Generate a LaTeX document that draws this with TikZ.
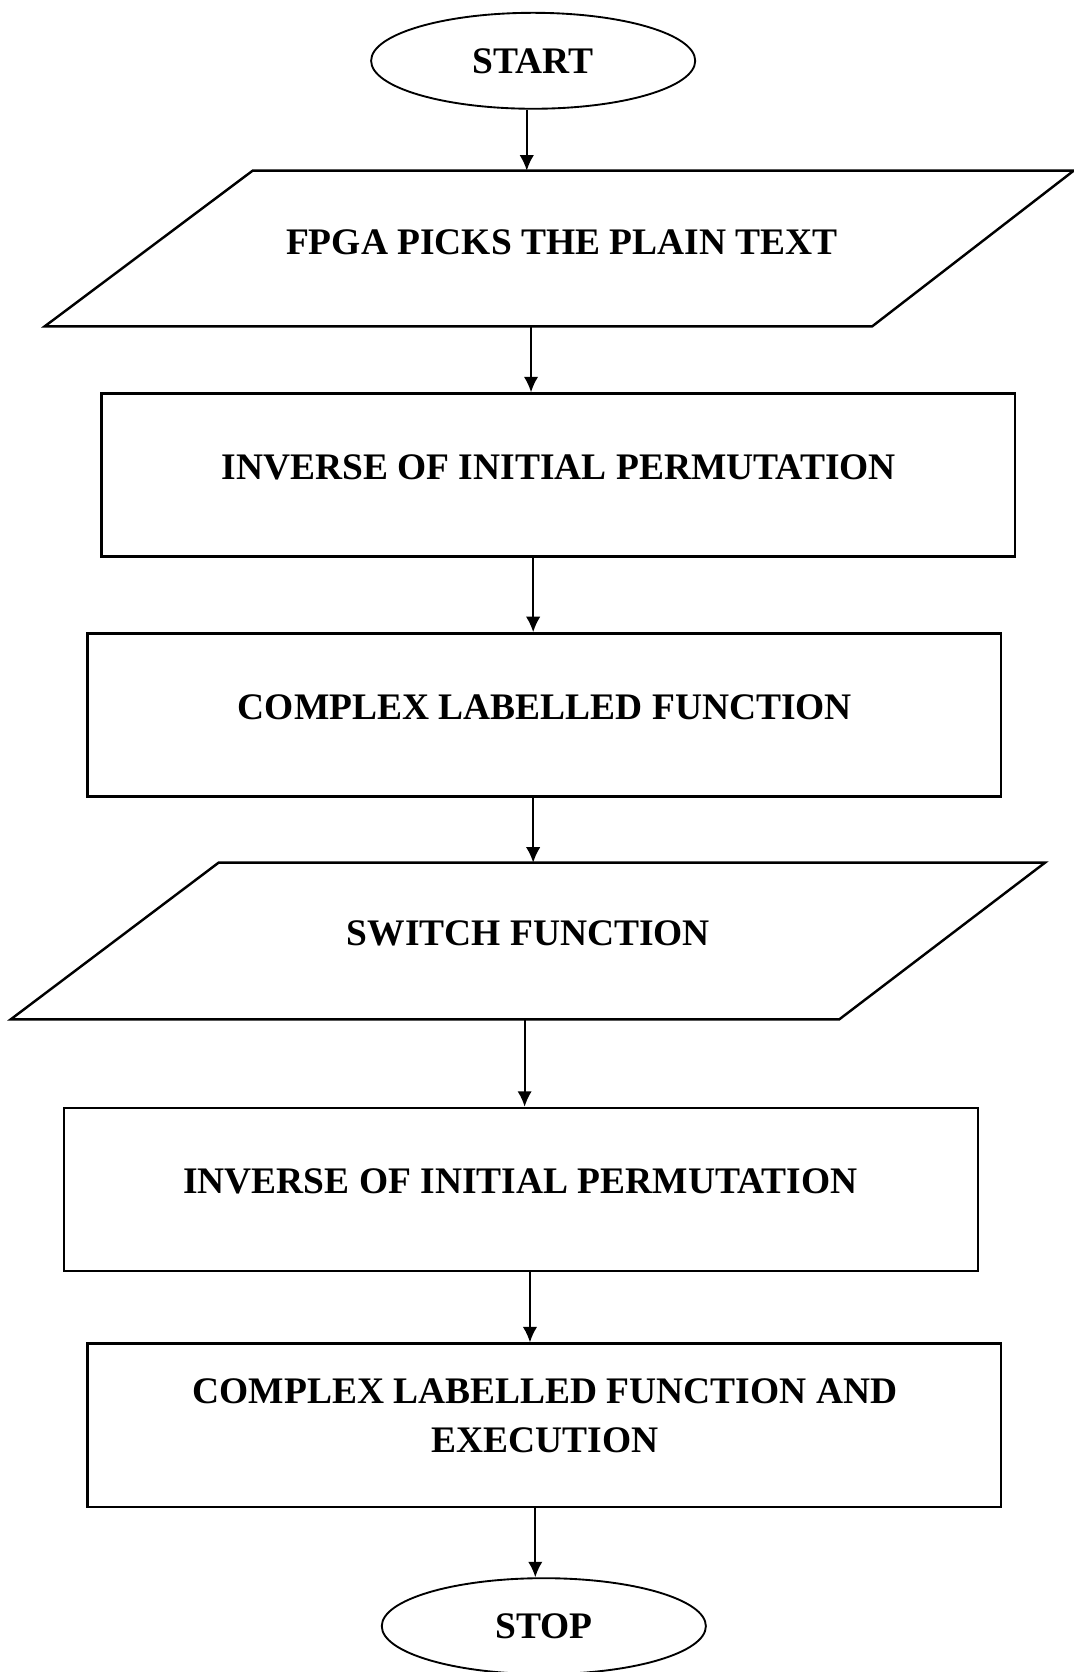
\documentclass[tikz,border=0pt]{standalone}
\usepackage{fontspec}
\setmainfont{Liberation Serif}
\usetikzlibrary{shapes.geometric}
\usetikzlibrary{arrows.meta}

\tikzset{
  terminal/.style={draw, ellipse, line width=1pt,
    minimum width=6.08cm, minimum height=1.8cm, inner sep=0cm},
  procbox/.style={draw, rectangle, line width=1.3pt,
    minimum width=17.14cm, minimum height=3.06cm, inner sep=0cm},
  ioshape/.style={draw, line width=1.3pt, line join=miter},
  lbl/.style={font=\bfseries\fontsize{20}{26}\selectfont, inner sep=0cm, align=center},
  flow/.style={line width=1pt, -{Latex[length=2.9mm,width=2.7mm]}}
}

\begin{document}
\begin{tikzpicture}[x=0.02cm, y=-0.02cm]
\useasboundingbox (0,0) rectangle (1007,1568);

\draw (500,57) node[terminal] (start) {};
\draw (500,57) node[lbl] (tstart) {START};

\draw[ioshape] (237,160) -- (1007,160) -- (818,306) -- (42,306) -- cycle;
\coordinate (in1n) at (494,160);
\coordinate (in1s) at (498,306);
\draw (527,227) node[lbl] (tin1) {FPGA PICKS THE PLAIN TEXT};

\draw (523.5,445.5) node[procbox] (box1) {};
\draw (524,438) node[lbl] (tbox1) {INVERSE OF INITIAL PERMUTATION};

\draw (510.5,670.5) node[procbox] (box2) {};
\draw (511,663) node[lbl] (tbox2) {COMPLEX LABELLED FUNCTION};

\draw[ioshape] (205,809) -- (980,809) -- (787,956) -- (10,956) -- cycle;
\coordinate (in2n) at (500,809);
\coordinate (in2s) at (492,956);
\draw (495.5,875) node[lbl] (tin2) {SWITCH FUNCTION};

\draw (488.5,1115.5) node[procbox] (box3) {};
\draw (488,1108) node[lbl] (tbox3) {INVERSE OF INITIAL PERMUTATION};

\draw (510.5,1336.5) node[procbox] (box4) {};
\draw (511,1328) node[lbl] (tbox4) {COMPLEX LABELLED FUNCTION AND\\EXECUTION};

\draw (510,1525) node[terminal] (stop) {};
\draw (510,1525) node[lbl] (tstop) {STOP};

% arrows
\coordinate (col3) at (500,0);
\coordinate (col6) at (497,0);
\coordinate (col7) at (502,0);
\draw[flow] (start.south -| in1n) -- (in1n);
\draw[flow] (in1s) -- (in1s |- box1.north);
\draw[flow] (box1.south -| col3) -- (box2.north -| col3);
\draw[flow] (box2.south -| in2n) -- (in2n);
\draw[flow] (in2s) -- (in2s |- box3.north);
\draw[flow] (box3.south -| col6) -- (box4.north -| col6);
\draw[flow] (box4.south -| col7) -- (stop.north -| col7);
\end{tikzpicture}
\end{document}
